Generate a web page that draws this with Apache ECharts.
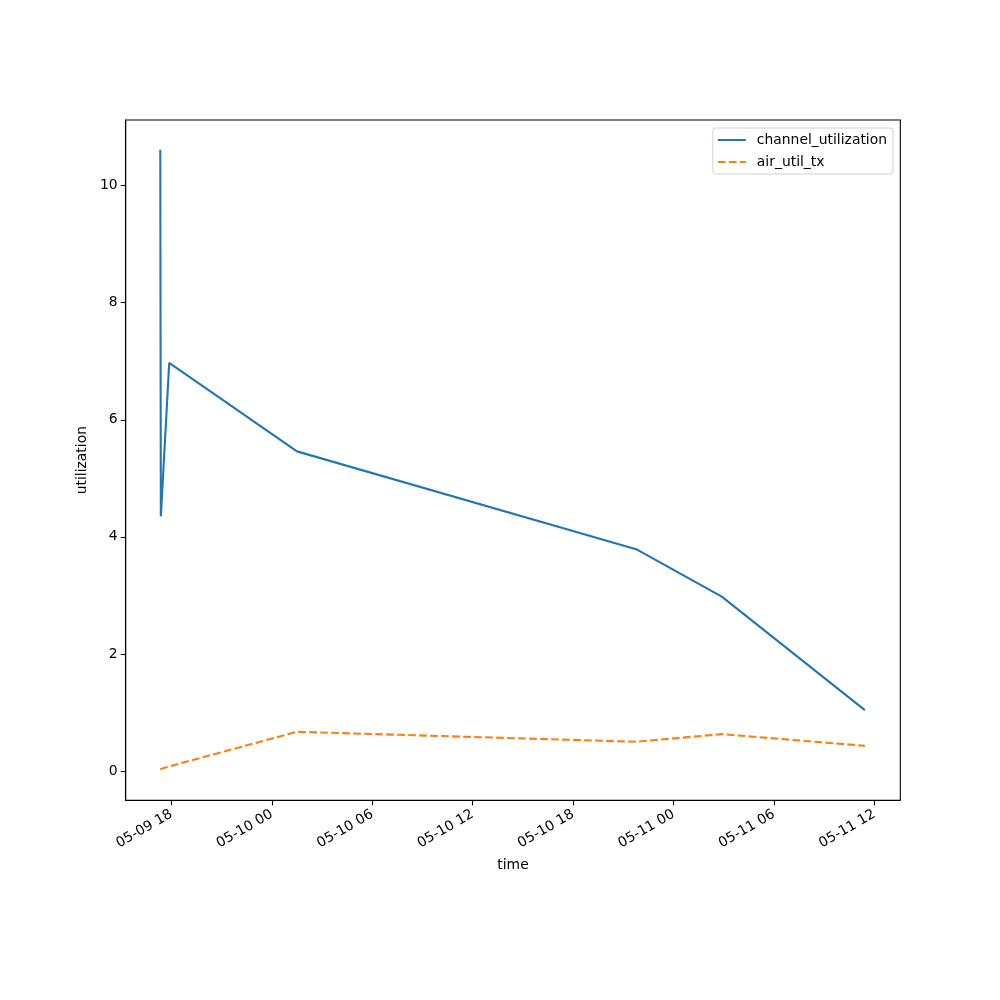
<!DOCTYPE html>
<html>
<head>
<meta charset="utf-8">
<script src="https://cdn.jsdelivr.net/npm/echarts@6/dist/echarts.min.js"></script>
<style>
html,body{margin:0;padding:0;background:#fff;}
#chart{width:1000px;height:1000px;}
</style>
</head>
<body>
<div id="chart"></div>
<script>
// ---- data ----
const times = ['2024-05-09 17:20','2024-05-09 17:22','2024-05-09 17:52','2024-05-10 01:30','2024-05-10 21:46','2024-05-11 02:53','2024-05-11 11:26'];
const channelUtilization = [10.61, 4.35, 6.97, 5.46, 3.79, 2.98, 1.04];
const airUtilTx = [0.03, 0.03, 0.08, 0.67, 0.50, 0.63, 0.43];
const xTickLabels = ['2024-05-09 18:00','2024-05-10 00:00','2024-05-10 06:00','2024-05-10 12:00','2024-05-10 18:00','2024-05-11 00:00','2024-05-11 06:00','2024-05-11 12:00'];
const yTicks = [0, 2, 4, 6, 8, 10];
const xRange = ['2024-05-09 15:16','2024-05-11 13:33'];
const yRange = [-0.50, 11.12];

function parseT(s){
  const [d,t] = s.split(' ');
  const [Y,M,D] = d.split('-').map(Number);
  const [h,m] = t.split(':').map(Number);
  return new Date(Y, M-1, D, h, m).getTime();
}
function pad(n){return (n<10?'0':'')+n;}
function fmt(v){
  const d = new Date(v);
  return pad(d.getMonth()+1)+'-'+pad(d.getDate())+' '+pad(d.getHours());
}
const tv = times.map(parseT);
const font = 'DejaVu Sans';
const fs = 13.9;
const chart = echarts.init(document.getElementById('chart'), null, {renderer:'canvas'});
chart.setOption({
  animation:false,
  backgroundColor:'#fff',
  grid:{left:125.7, right:99.7, top:120, bottom:199.7, show:true, borderColor:'#000', borderWidth:1.1, containLabel:false},
  legend:{
    orient:'vertical', right:107, top:128,
    itemWidth:28, itemHeight:14, itemGap:8,
    padding:[5,6,5,4],
    borderColor:'#d0d0d0', borderWidth:1, borderRadius:3,
    backgroundColor:'rgba(255,255,255,0.8)',
    itemStyle:{opacity:0},
    textStyle:{fontFamily:font, fontSize:fs, color:'#000', padding:[0,0,0,6]},
    data:['channel_utilization','air_util_tx']
  },
  xAxis:{
    type:'value', min:parseT(xRange[0]), max:parseT(xRange[1]),
    name:'time', nameLocation:'middle', nameGap:58,
    nameTextStyle:{fontFamily:font, fontSize:fs, color:'#000'},
    axisLine:{show:true, onZero:false, lineStyle:{color:'#000', width:1.1}},
    axisTick:{show:true, length:5, lineStyle:{color:'#000', width:1.1}, customValues:xTickLabels.map(parseT)},
    axisLabel:{rotate:30, margin:13, fontFamily:font, fontSize:fs, color:'#000', formatter:fmt, customValues:xTickLabels.map(parseT)},
    splitLine:{show:false}
  },
  yAxis:{
    type:'value', min:yRange[0], max:yRange[1],
    name:'utilization', nameLocation:'middle', nameGap:33, nameRotate:90,
    nameTextStyle:{fontFamily:font, fontSize:fs, color:'#000'},
    axisLine:{show:true, onZero:false, lineStyle:{color:'#000', width:1.1}},
    axisTick:{show:true, length:5, lineStyle:{color:'#000', width:1.1}, customValues:yTicks},
    axisLabel:{margin:8, fontFamily:font, fontSize:fs, color:'#000', customValues:yTicks},
    splitLine:{show:false}
  },
  series:[
    {name:'channel_utilization', type:'line', symbol:'none', color:'#1f77b4',
     lineStyle:{width:2.1, color:'#1f77b4'},
     data:tv.map((t,i)=>[t, channelUtilization[i]])},
    {name:'air_util_tx', type:'line', symbol:'none', color:'#ff7f0e',
     lineStyle:{width:2.1, color:'#ff7f0e', type:[7.7,3.3]},
     data:tv.map((t,i)=>[t, airUtilTx[i]])}
  ]
});
</script>
</body>
</html>
